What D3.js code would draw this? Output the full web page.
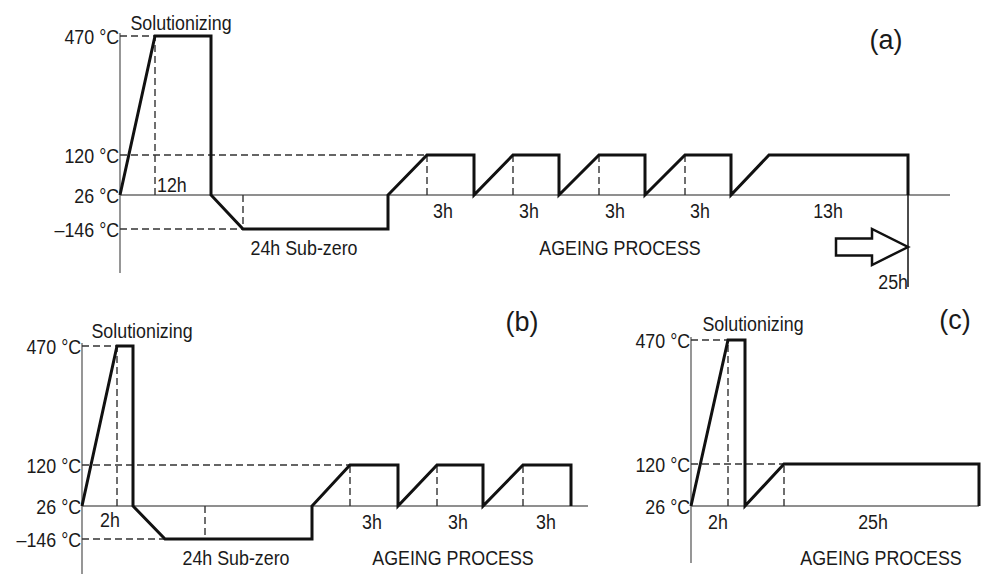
<!DOCTYPE html>
<html><head><meta charset="utf-8">
<script src="https://cdn.jsdelivr.net/npm/d3@7"></script>
<style>body{margin:0;background:#fff}svg{display:block}</style>
</head><body>
<svg id="c" width="981" height="574"></svg>
<script>
// ---------- DATA ----------
// temperature levels (°C) and their labels
const levelsA = [470, 120, 26, -146];
const levelLabelsA = ["470 °C", "120 °C", "26 °C", "–146 °C"];
const levelsB = [470, 120, 26, -146];
const levelLabelsB = ["470 °C", "120 °C", "26 °C", "–146 °C"];
const levelsC = [470, 120, 26];
const levelLabelsC = ["470 °C", "120 °C", "26 °C"];

// schematic time (arbitrary units along the drawn axis), temperature (°C)
const profileA = [[0,26],[35,470],[91,470],[91,26],[123,-146],[268,-146],[268,26],[307,120],[354,120],[354,26],
  [393,120],[439,120],[439,26],[479,120],[525,120],[525,26],[565,120],[611,120],[611,26],[649,120],[788,120],[788,26]];
const profileB = [[0,26],[35,470],[51,470],[51,26],[83,-146],[230,-146],[230,26],[268,120],[316,120],[316,26],
  [355,120],[401,120],[401,26],[441,120],[489,120],[489,26]];
const profileC = [[0,26],[37,470],[54,470],[54,26],[93,120],[288,120],[288,26]];

// dashed guide lines: vertical [t, fromT, toT], horizontal [T, toTime]
const vGuidesA = [[35,26,470],[123,26,-146],[307,26,120],[393,26,120],[479,26,120],[565,26,120]];
const hGuidesA = [[470,35],[120,307],[-146,123]];
const vGuidesB = [[35,26,470],[123,26,-146],[268,26,120],[355,26,120],[441,26,120]];
const hGuidesB = [[470,35],[120,268],[-146,83]];
const vGuidesC = [[37,26,470],[93,26,120]];
const hGuidesC = [[470,37],[120,93]];

// duration labels: [text, time position]
const durLabelsA = [["3h",323],["3h",409],["3h",495],["3h",580],["13h",708]];
const durLabelsB = [["3h",290],["3h",376],["3h",464]];
const durLabelsC = [["2h",27],["25h",182]];
const axisEndA = 830, axisEndB = 506, axisEndC = 288;
const totalTimeLabelA = "25h";

// ---------- DRAW ----------
const svg = d3.select("#c");
const FONT = "'Liberation Sans', Arial, Helvetica, sans-serif";
const SX = 0.85, FS = 21;

function txt(g, x, y, s, anchor, size, sx) {
  return g.append("text")
    .attr("transform", `translate(${x},${y}) scale(${sx},1)`)
    .attr("text-anchor", anchor || "middle")
    .attr("dominant-baseline", "central")
    .attr("font-family", FONT).attr("font-size", size || FS)
    .attr("fill", "#1a1a1a").text(s);
}

function panel(cfg) {
  const g = svg.append("g");
  const x = d3.scaleLinear().domain([0, 1]).range([cfg.x0, cfg.x0 + 1]);
  const y = d3.scaleLinear().domain(cfg.yDomain).range(cfg.yRange);
  // axes
  g.append("line").attr("x1", x(0)).attr("x2", x(0)).attr("y1", cfg.yTop).attr("y2", cfg.yBot)
    .attr("stroke", "#6a6a6a").attr("stroke-width", 1.4);
  g.append("line").attr("x1", x(0)).attr("x2", x(cfg.axisEnd)).attr("y1", y(26)).attr("y2", y(26))
    .attr("stroke", "#6a6a6a").attr("stroke-width", 1.4);
  // y labels via d3 axis
  const ax = d3.axisLeft(y).tickValues(cfg.levels).tickSize(0).tickPadding(1)
    .tickFormat((d, i) => cfg.levelLabels[i]);
  const ag = g.append("g").attr("transform", `translate(${x(0)},0)`).call(ax);
  ag.select(".domain").remove();
  ag.selectAll("text").attr("font-family", FONT).attr("font-size", FS).attr("fill", "#1a1a1a")
    .attr("dy", null).attr("dominant-baseline", "central")
    .attr("transform", `scale(${SX},1)`);
  // dashed guides
  const dash = "7,4";
  cfg.hGuides.forEach(([T, t]) => g.append("line").attr("x1", x(0)).attr("x2", x(t))
    .attr("y1", y(T)).attr("y2", y(T)).attr("stroke", "#333").attr("stroke-width", 1.4).attr("stroke-dasharray", dash));
  cfg.vGuides.forEach(([t, a, b]) => g.append("line").attr("x1", x(t)).attr("x2", x(t))
    .attr("y1", y(a)).attr("y2", y(b)).attr("stroke", "#333").attr("stroke-width", 1.4).attr("stroke-dasharray", dash));
  // profile
  g.append("path").datum(cfg.profile)
    .attr("d", d3.line().x(d => x(d[0])).y(d => y(d[1])))
    .attr("fill", "none").attr("stroke", "#111").attr("stroke-width", 3).attr("stroke-linejoin", "miter");
  // duration labels under axis
  cfg.durLabels.forEach(([s, t]) => txt(g, x(t), y(26) + 15, s, "middle", FS, SX));
  return {g, x, y};
}

const A = panel({x0: 120, yDomain: [-146, 26, 120, 470], yRange: [229, 195, 155, 36], yTop: 33, yBot: 273,
  axisEnd: axisEndA, levels: levelsA, levelLabels: levelLabelsA, profile: profileA,
  vGuides: vGuidesA, hGuides: hGuidesA, durLabels: durLabelsA});
const B = panel({x0: 82, yDomain: [-146, 26, 120, 470], yRange: [539, 506, 465, 346], yTop: 343, yBot: 574,
  axisEnd: axisEndB, levels: levelsB, levelLabels: levelLabelsB, profile: profileB,
  vGuides: vGuidesB, hGuides: hGuidesB, durLabels: durLabelsB});
const C = panel({x0: 691, yDomain: [26, 120, 470], yRange: [506, 464, 340], yTop: 337, yBot: 563,
  axisEnd: axisEndC, levels: levelsC, levelLabels: levelLabelsC, profile: profileC,
  vGuides: vGuidesC, hGuides: hGuidesC, durLabels: durLabelsC});

// panel (a) extras
txt(A.g, 181, 22, "Solutionizing", "middle", FS, SX);
txt(A.g, A.x(37), A.y(26) - 11, "12h", "start", FS, SX);
txt(A.g, 304, 247, "24h Sub-zero", "middle", FS, SX);
txt(A.g, 620, 247, "AGEING PROCESS", "middle", FS, SX);
txt(A.g, 886, 40, "(a)", "middle", 27, 1);
const tEnd = A.x(profileA[profileA.length - 1][0]);
A.g.append("line").attr("x1", tEnd).attr("x2", tEnd).attr("y1", A.y(26)).attr("y2", 287)
  .attr("stroke", "#111").attr("stroke-width", 1.5);
const ay = 247;
A.g.append("path").attr("d", `M${tEnd - 72},${ay - 8.5} L${tEnd - 36},${ay - 8.5} L${tEnd - 36},${ay - 18} L${tEnd},${ay} L${tEnd - 36},${ay + 18} L${tEnd - 36},${ay + 8.5} L${tEnd - 72},${ay + 8.5} Z`)
  .attr("fill", "#fff").attr("stroke", "#111").attr("stroke-width", 2.5).attr("stroke-linejoin", "miter");
txt(A.g, tEnd, 281, totalTimeLabelA, "end", FS, SX);

// panel (b) extras
txt(B.g, 142, 330, "Solutionizing", "middle", FS, SX);
txt(B.g, 110, 519, "2h", "middle", FS, SX);
txt(B.g, 236, 557, "24h Sub-zero", "middle", FS, SX);
txt(B.g, 453, 557, "AGEING PROCESS", "middle", FS, SX);
txt(B.g, 522, 322, "(b)", "middle", 27, 1);

// panel (c) extras
txt(C.g, 753, 323, "Solutionizing", "middle", FS, SX);
txt(C.g, 881, 557, "AGEING PROCESS", "middle", FS, SX);
txt(C.g, 955, 320, "(c)", "middle", 27, 1);
</script>
</body></html>
